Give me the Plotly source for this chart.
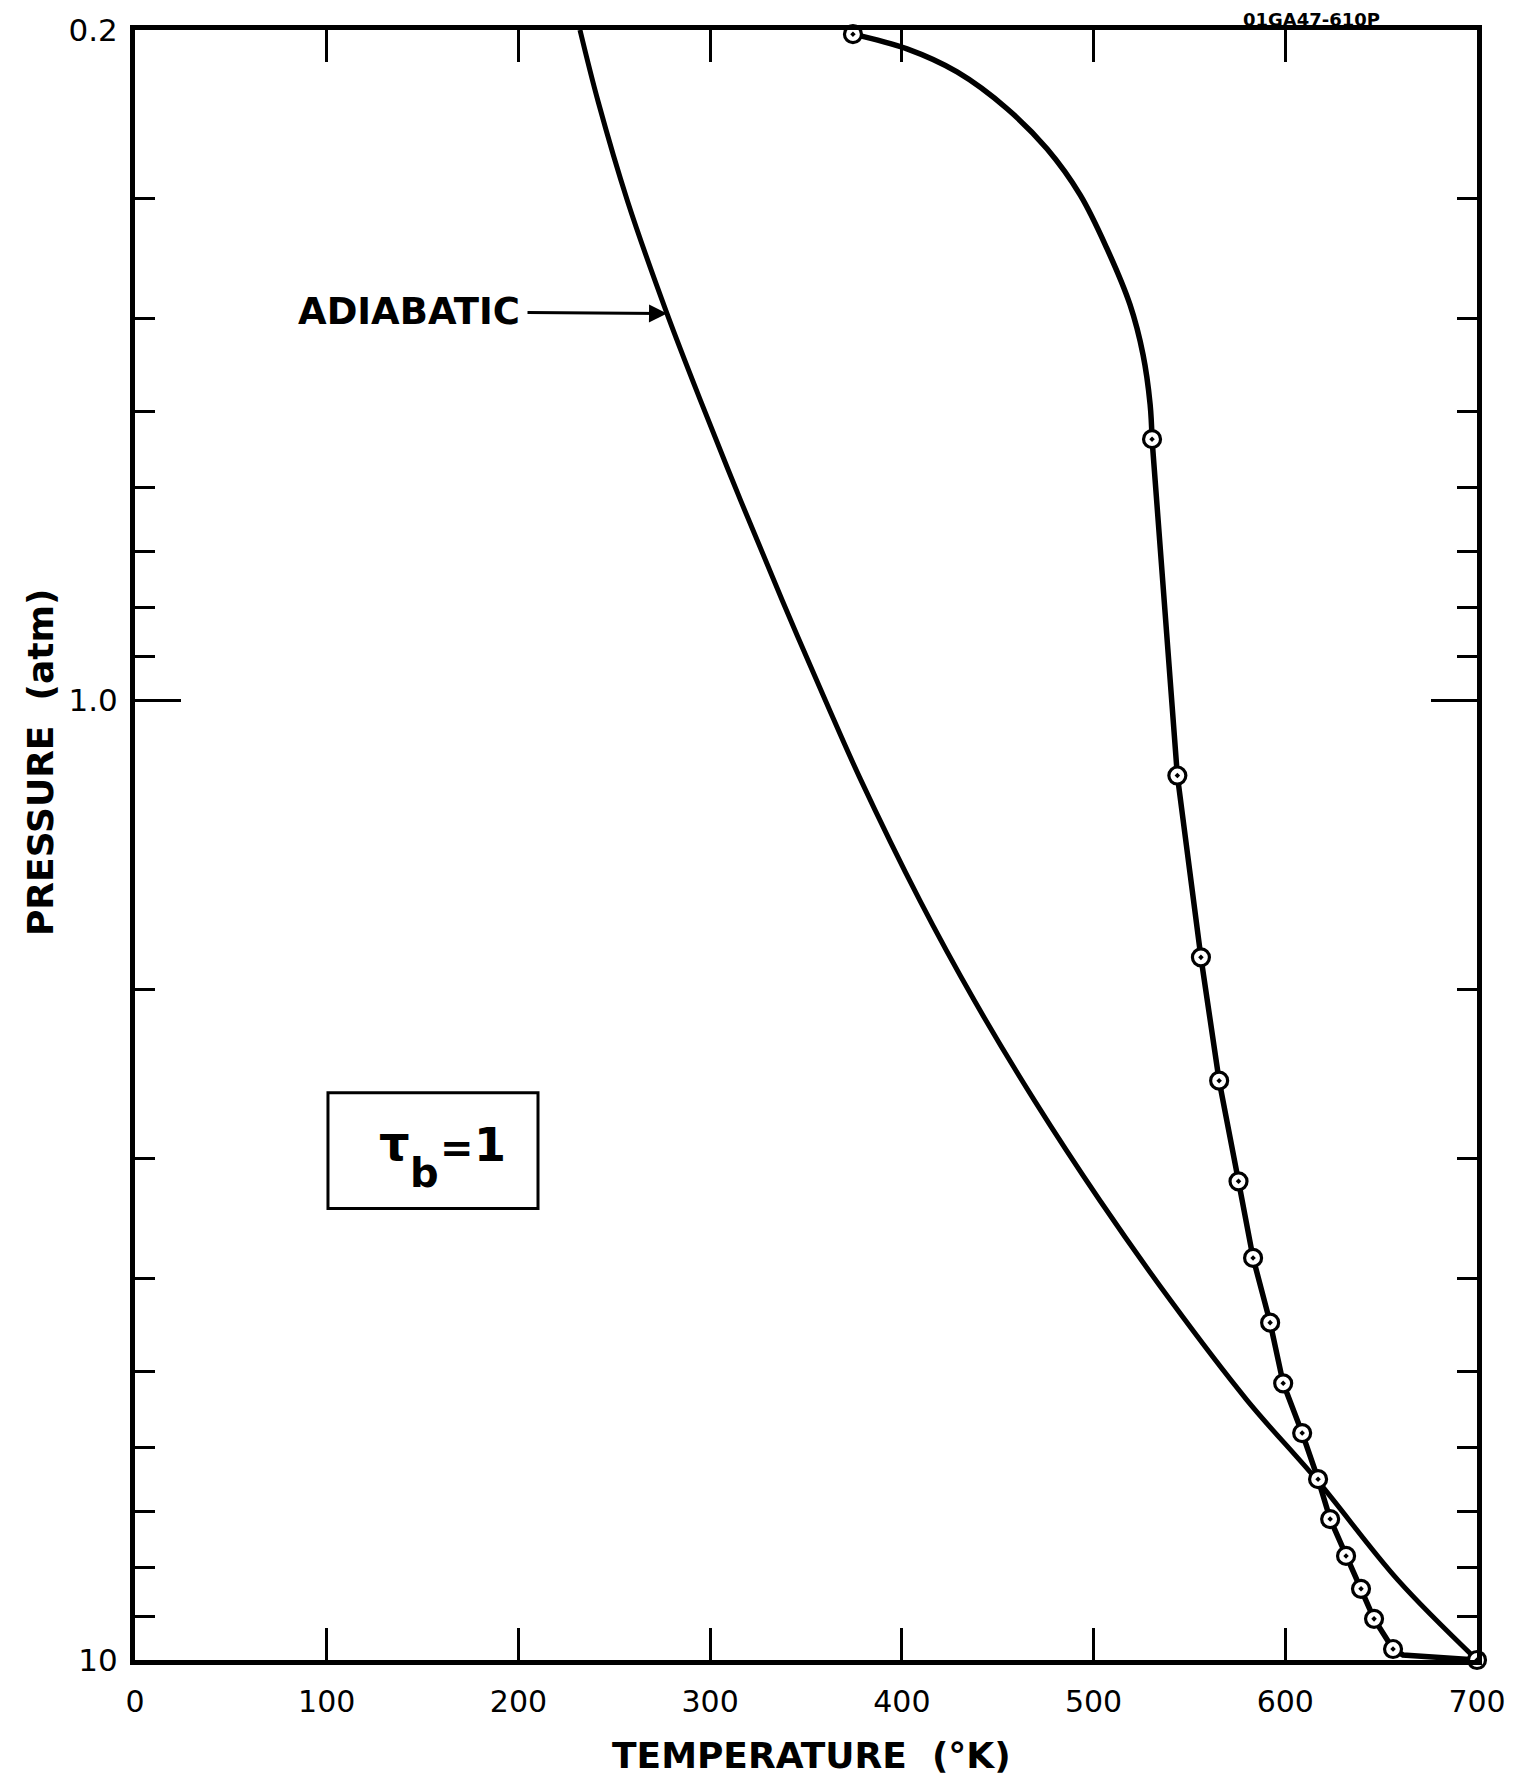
import math
import plotly.graph_objects as go

# ---- data ----
# Adiabatic curve (temperature K, pressure atm)
adiab_T = [232.1, 241.6, 257.0, 277.5, 295.2, 316.1, 337.8, 360.3, 377.9, 409.5,
           437.9, 469.2, 503.3, 540.2, 580.1, 616.6, 658.8, 700]
adiab_P = [0.2, 0.2376, 0.3020, 0.3950, 0.4879, 0.6200, 0.7879, 1.0014, 1.2015,
           1.6173, 2.0556, 2.6122, 3.3196, 4.2207, 5.3617, 6.4950, 8.2564, 10.0]

# Computed profile: smooth upper part (to the second point) ...
upper_T = [374.5, 402.7, 428.8, 454.9, 475.7, 493.0, 507.0, 519.0, 525.8, 529.5, 530.5]
upper_P = [0.2020, 0.2093, 0.2212, 0.2416, 0.266, 0.2971, 0.338, 0.3867, 0.4359,
           0.4913, 0.534]
# ... then the segment through the points down to the surface
lower_T = [530.5, 543.7, 556, 565.5, 575.6, 583.2, 592.1, 598.9, 608.8, 617.1,
           623.4, 631.7, 639.5, 646.3, 656.2, 661.4, 700]
lower_P = [0.534, 1.197, 1.852, 2.49, 3.17, 3.81, 4.45, 5.148, 5.80, 6.48,
           7.13, 7.79, 8.43, 9.06, 9.74, 9.88, 10.0]

# Plotted data points (circles)
pts_T = [374.5, 530.5, 543.7, 556, 565.5, 575.6, 583.2, 592.1, 598.9, 608.8, 617.1,
         623.4, 631.7, 639.5, 646.3, 656.2, 700]
pts_P = [0.2020, 0.534, 1.197, 1.852, 2.49, 3.17, 3.81, 4.45, 5.148, 5.80, 6.48,
         7.13, 7.79, 8.43, 9.06, 9.74, 10.0]

x_ticks = [0, 100, 200, 300, 400, 500, 600, 700]
y_major = [0.2, 1.0, 10]
y_major_text = ["0.2", "1.0", "10"]
y_minor = [0.3, 0.4, 0.5, 0.6, 0.7, 0.8, 0.9, 2, 3, 4, 5, 6, 7, 8, 9]

FONT = "DejaVu Sans"
BOLD = "DejaVu Sans"

fig = go.Figure()
fig.add_trace(go.Scatter(x=adiab_T, y=adiab_P, mode="lines",
                         line=dict(color="black", width=5, shape="spline", smoothing=1.0),
                         showlegend=False, hoverinfo="skip"))
fig.add_trace(go.Scatter(x=upper_T, y=upper_P, mode="lines",
                         line=dict(color="black", width=5.5, shape="spline", smoothing=1.0),
                         showlegend=False, hoverinfo="skip", cliponaxis=False))
fig.add_trace(go.Scatter(x=lower_T, y=lower_P, mode="lines",
                         line=dict(color="black", width=5.5),
                         showlegend=False, hoverinfo="skip", cliponaxis=False))
fig.add_trace(go.Scatter(x=pts_T, y=pts_P, mode="markers",
                         marker=dict(symbol="circle-dot", size=17, color="white",
                                     line=dict(color="black", width=3.2)),
                         showlegend=False, cliponaxis=False))

fig.update_xaxes(range=[0, 700], tickmode="array", tickvals=x_ticks,
                 ticktext=[str(v) for v in x_ticks],
                 ticks="inside", ticklen=32, tickwidth=3, tickcolor="black",
                 showline=True, linewidth=5, linecolor="black", mirror="ticks",
                 showgrid=False, zeroline=False, automargin=False,
                 tickfont=dict(family=FONT, size=30, color="black"),
                 ticklabelstandoff=11)
fig.update_yaxes(type="log", range=[1, math.log10(0.2)], tickmode="array",
                 tickvals=y_major, ticktext=y_major_text,
                 ticks="inside", ticklen=46, tickwidth=3, tickcolor="black",
                 minor=dict(tickmode="array", tickvals=y_minor, ticks="inside",
                            ticklen=20, tickwidth=3, tickcolor="black", showgrid=False),
                 showline=True, linewidth=5, linecolor="black", mirror="ticks",
                 showgrid=False, zeroline=False, automargin=False,
                 tickfont=dict(family=FONT, size=31, color="black"),
                 ticklabelstandoff=6)


def pa(text, x, y, size, bold=True, **kw):
    t = f"<b>{text}</b>" if bold else text
    d = dict(text=t, xref="paper", yref="paper", x=x, y=y, xanchor="center",
             yanchor="middle", showarrow=False,
             font=dict(family=BOLD, size=size, color="black"))
    d.update(kw)
    return d


annotations = [
    pa("PRESSURE  (atm)", -0.0708, 0.5509, 36, textangle=-90),
    pa("TEMPERATURE  (°K)", 0.504, -0.0585, 36),
    pa("01GA47-610P", 0.877, 1.0064, 18, borderpad=0),
    pa("τ", 0.1937, 0.3174, 48),
    pa("b", 0.2154, 0.299, 40),
    pa("=", 0.2399, 0.3143, 40),
    pa("1", 0.2645, 0.3162, 46),
    dict(text="<b>ADIABATIC</b>", x=277.5, y=math.log10(0.395), xref="x", yref="y",
         showarrow=True, ax=-258, ay=-2, arrowhead=2, arrowsize=1.2, arrowwidth=3,
         arrowcolor="black", standoff=0, startstandoff=6,
         font=dict(family=BOLD, size=37, color="black")),
]
fig.update_layout(
    width=1530, height=1774,
    margin=dict(l=127, r=61, t=22, b=122),
    paper_bgcolor="white", plot_bgcolor="white",
    annotations=annotations,
    shapes=[dict(type="rect", xref="paper", yref="paper", x0=0.1438, x1=0.3003,
                 y0=0.277, y1=0.348, line=dict(color="black", width=3))],
)
fig.write_html("out.html")
